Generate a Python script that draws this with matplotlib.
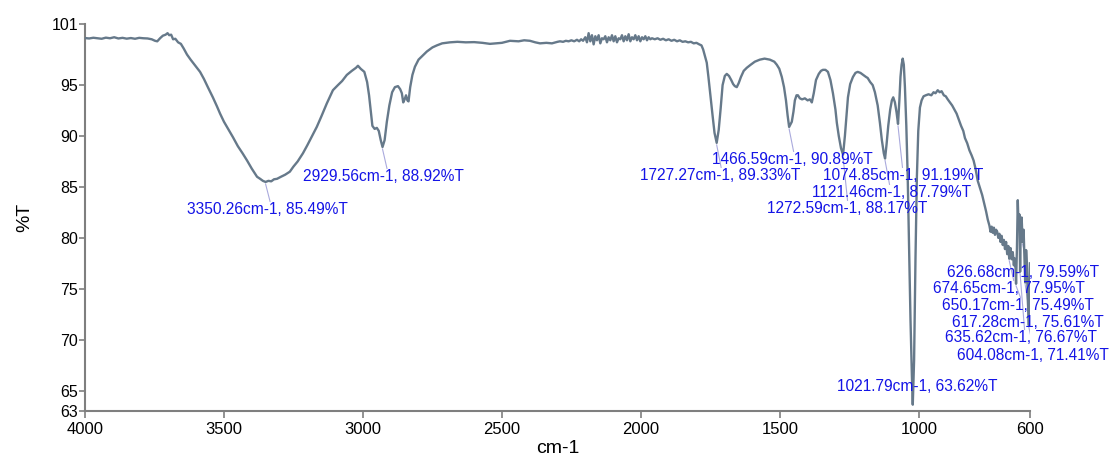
import matplotlib
matplotlib.use("Agg")
import matplotlib.pyplot as plt

plt.rcParams.update({
    'font.family': ['Liberation Sans', 'DejaVu Sans'],
    'axes.edgecolor': '#7f7f7f',
    'xtick.color': '#7f7f7f',
    'ytick.color': '#7f7f7f',
})

# FTIR spectrum: wavenumber (cm-1) vs transmittance (%T)
wavenumber = [
    4000, 3985, 3970, 3955, 3940, 3925, 3910, 3895, 3880, 3865, 3850, 3835, 3820, 3805, 3790,
    3775, 3760, 3748, 3740, 3730, 3720, 3710, 3703, 3697, 3690, 3683, 3675, 3665, 3655, 3645,
    3633, 3620, 3600, 3586, 3572, 3558, 3540, 3525, 3514, 3500, 3485, 3468, 3450, 3433, 3417,
    3400, 3381, 3370, 3360, 3350.26, 3340, 3330, 3320, 3309, 3295, 3280, 3263, 3250, 3235, 3216,
    3200, 3185, 3166, 3150, 3130, 3108, 3090, 3075, 3058, 3040, 3025, 3018, 3008, 2995, 2985,
    2978, 2972, 2966, 2958, 2950, 2943, 2936, 2929.56, 2922, 2914, 2905, 2895, 2885, 2874, 2866,
    2860, 2855, 2850, 2845, 2840, 2836, 2830, 2822, 2813, 2800, 2785, 2770, 2750, 2734, 2715,
    2687, 2660, 2630, 2600, 2570, 2543, 2520, 2500, 2471, 2440, 2420, 2399, 2380, 2363, 2340,
    2320, 2300, 2291, 2280, 2270, 2260, 2250, 2240, 2230, 2222, 2215, 2208, 2200, 2194, 2188,
    2182, 2176, 2170, 2164, 2158, 2152, 2146, 2140, 2134, 2128, 2122, 2116, 2110, 2104, 2098,
    2092, 2086, 2080, 2074, 2068, 2062, 2056, 2050, 2044, 2038, 2032, 2026, 2020, 2014, 2008,
    2002, 1996, 1990, 1984, 1978, 1972, 1966, 1960, 1950, 1940, 1930, 1920, 1910, 1900, 1890,
    1880, 1870, 1860, 1850, 1840, 1830, 1820, 1810, 1800, 1790, 1782, 1776, 1770, 1763, 1757,
    1750, 1742, 1735, 1727.27, 1720, 1713, 1706, 1698, 1691, 1683, 1675, 1668, 1662, 1655, 1648,
    1640, 1630, 1619, 1605, 1590, 1572, 1555, 1536, 1520, 1511, 1502, 1493, 1485, 1478, 1472,
    1466.59, 1461, 1457, 1451, 1446, 1440, 1435, 1428, 1420, 1410, 1400, 1392, 1385, 1378, 1370,
    1360, 1352, 1345, 1336, 1327, 1318, 1309, 1300, 1295, 1288, 1280, 1272.59, 1266, 1260, 1255,
    1247, 1237, 1228, 1220, 1210, 1200, 1190, 1184, 1175, 1166, 1158, 1148, 1140, 1133, 1126,
    1121.46, 1116, 1110, 1103, 1097, 1092, 1086, 1080, 1074.85, 1070, 1066, 1062, 1058, 1054, 1050,
    1045, 1040, 1035, 1030, 1025, 1021.79, 1017, 1012, 1007, 1002, 996, 990, 983, 975, 965,
    955, 947, 940, 932, 925, 918, 910, 903, 896, 888, 880, 872, 864, 856, 848,
    840, 834, 826, 818, 810, 803, 796, 788, 780, 772, 765, 758, 752, 746, 742,
    738, 734, 730, 726, 722, 718, 714, 710, 706, 702, 698, 694, 690, 686, 682,
    678, 674.65, 670, 666, 662, 658, 656, 652, 650.17, 647, 644, 641, 638, 635.62, 633,
    630, 628, 626.68, 623, 620, 617.28, 614, 611, 608, 604.08, 602, 600,
]
transmittance = [
    99.62, 99.58, 99.65, 99.60, 99.55, 99.66, 99.60, 99.70, 99.58, 99.64, 99.56, 99.62, 99.55, 99.64, 99.60,
    99.58, 99.50, 99.35, 99.30, 99.60, 99.85, 99.95, 100.10, 99.90, 99.95, 99.50, 99.55, 99.20, 99.05, 98.60,
    98.00, 97.50, 96.80, 96.30, 95.60, 94.80, 93.80, 92.90, 92.20, 91.40, 90.70, 89.90, 89.00, 88.30, 87.60,
    86.80, 86.00, 85.80, 85.60, 85.49, 85.60, 85.55, 85.75, 85.80, 86.00, 86.20, 86.50, 87.00, 87.50, 88.30,
    89.10, 89.90, 90.90, 91.90, 93.20, 94.50, 95.00, 95.40, 96.00, 96.40, 96.70, 96.90, 96.60, 96.30, 95.30,
    94.00, 92.50, 91.00, 90.70, 90.80, 90.50, 89.60, 88.92, 89.60, 91.40, 93.00, 94.30, 94.80, 94.90, 94.60,
    94.20, 93.30, 93.60, 94.00, 93.50, 93.40, 94.80, 96.00, 96.80, 97.50, 97.90, 98.30, 98.70, 98.90, 99.10,
    99.20, 99.25, 99.20, 99.22, 99.15, 99.05, 99.10, 99.15, 99.35, 99.30, 99.40, 99.35, 99.20, 99.10, 99.15,
    99.10, 99.25, 99.30, 99.25, 99.35, 99.30, 99.40, 99.30, 99.45, 99.30, 99.50, 99.35, 99.70, 99.20, 100.10,
    99.30, 99.90, 99.00, 99.80, 99.40, 99.90, 99.10, 99.60, 99.50, 99.80, 99.20, 99.70, 99.40, 99.90, 99.30,
    99.80, 99.20, 99.60, 99.50, 99.90, 99.30, 99.80, 99.40, 100.00, 99.30, 99.70, 99.50, 99.90, 99.40, 99.80,
    99.30, 99.70, 99.50, 99.80, 99.40, 99.70, 99.50, 99.60, 99.50, 99.60, 99.45, 99.55, 99.40, 99.50, 99.35,
    99.45, 99.30, 99.40, 99.25, 99.30, 99.20, 99.25, 99.10, 99.15, 99.00, 98.90, 98.50, 97.90, 97.20, 95.80,
    94.00, 92.00, 90.30, 89.33, 90.60, 92.70, 95.00, 95.90, 96.10, 95.90, 95.50, 95.10, 94.90, 94.80, 95.20,
    95.80, 96.40, 96.70, 97.00, 97.30, 97.50, 97.60, 97.50, 97.30, 97.00, 96.60, 95.80, 94.80, 93.50, 92.00,
    90.89, 91.20, 91.40, 92.40, 93.50, 94.00, 94.00, 93.70, 93.60, 93.70, 93.50, 93.60, 93.30, 94.20, 95.50,
    96.10, 96.40, 96.50, 96.50, 96.30, 95.50, 94.20, 92.60, 91.30, 90.00, 88.80, 88.17, 90.00, 92.00, 93.80,
    95.10, 95.80, 96.20, 96.30, 96.20, 96.00, 95.80, 95.70, 95.30, 95.00, 94.30, 93.00, 91.30, 89.60, 88.30,
    87.79, 89.20, 91.00, 92.60, 93.50, 93.80, 93.30, 92.30, 91.19, 93.50, 95.80, 97.00, 97.60, 97.00, 94.80,
    91.00, 86.00, 79.00, 72.00, 66.50, 63.62, 68.00, 78.00, 86.00, 90.50, 92.80, 93.50, 93.90, 94.00, 94.10,
    94.00, 94.30, 94.20, 94.50, 94.30, 94.40, 94.00, 93.90, 93.60, 93.30, 93.00, 92.60, 92.20, 91.60, 91.00,
    90.50, 89.80, 89.30, 88.60, 88.10, 87.60, 86.80, 85.60, 84.90, 84.20, 83.40, 82.60, 81.80, 81.20, 80.60,
    81.10, 80.50, 81.00, 80.30, 80.80, 80.60, 80.00, 80.40, 79.60, 80.20, 79.30, 79.80, 78.90, 79.60, 78.40,
    79.20, 77.95, 79.00, 77.90, 78.60, 77.30, 78.00, 77.00, 75.49, 79.00, 83.70, 81.00, 82.30, 76.67, 81.50,
    82.00, 80.50, 79.59, 80.80, 78.00, 75.61, 78.80, 77.50, 74.00, 71.41, 74.50, 77.50,
]

# picked peaks
peak_wn = [3350.26, 2929.56, 1466.59, 1727.27, 1074.85, 1121.46, 1272.59,
           626.68, 674.65, 650.17, 617.28, 635.62, 604.08, 1021.79]
peak_t = [85.49, 88.92, 90.89, 89.33, 91.19, 87.79, 88.17,
          79.59, 77.95, 75.49, 75.61, 76.67, 71.41, 63.62]

# where each peak label sits (left edge in cm-1, vertical centre in %T)
label_pos = [(3633, 82.83), (3216, 86.07), (1745, 87.74), (2004, 86.17), (1345, 86.17),
             (1385, 84.50), (1547, 82.93), (899, 76.64), (950, 75.07), (917, 73.40),
             (881, 71.73), (907, 70.25), (863, 68.49), (1295, 65.44)]

fig = plt.figure(figsize=(11.12, 4.58), dpi=100)
ax = fig.add_axes([85 / 1112, 47 / 458, 945 / 1112, 387 / 458])

ax.plot(wavenumber, transmittance, color='#66798a', linewidth=1.7, zorder=3)

for wn, t, (lx, ly) in zip(peak_wn, peak_t, label_pos):
    text = f"{wn:.2f}cm-1, {t:.2f}%T"
    ax.text(lx, ly, text, ha='left', va='center', color='#1414e6', fontsize=11.2, zorder=4)
    top = ly + 0.75
    if top < t:
        ax.plot([wn, wn - 16], [t - 0.2, top], color='#aaaadd', linewidth=0.8, zorder=2)

ax.set_xlim(4000, 600)
ax.set_ylim(63, 101)
ax.set_xticks([4000, 3500, 3000, 2500, 2000, 1500, 1000, 600])
ax.set_yticks([63, 65, 70, 75, 80, 85, 90, 95, 101])
ax.tick_params(axis='x', labelsize=12, length=5, width=1.2, pad=3, labelcolor='black')
ax.tick_params(axis='y', labelsize=11.5, length=4, width=1.2, pad=1, labelcolor='black')

for side in ('top', 'right'):
    ax.spines[side].set_visible(False)
for side in ('left', 'bottom'):
    ax.spines[side].set_linewidth(1.5)

ax.set_xlabel('cm-1', fontsize=14, labelpad=2)
ax.set_ylabel('%T', fontsize=14, labelpad=13)

fig.savefig('out.png', dpi=100)
